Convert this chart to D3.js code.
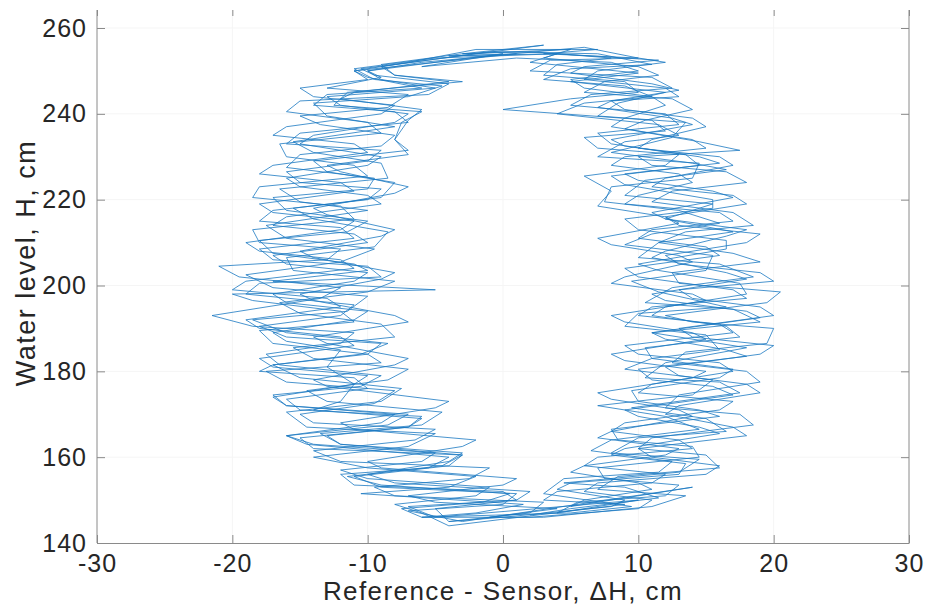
<!DOCTYPE html>
<html>
<head>
<meta charset="utf-8">
<script src="https://cdn.jsdelivr.net/npm/d3@7/dist/d3.min.js"></script>
<style>
  html, body { margin: 0; padding: 0; background: #fff; }
  svg { display: block; font-family: "Liberation Sans", Arial, Helvetica, sans-serif; }
</style>
</head>
<body>
<svg id="chart" width="928" height="611"></svg>
<script>
// Tick values for both axes
const xTicks = [-30, -20, -10, 0, 10, 20, 30];
const yTicks = [140, 160, 180, 200, 220, 240, 260];

// Hysteresis trajectory, one array per tide cycle: [ΔH (cm), H (cm)]
// rising limb on the right, short crossing at high water, falling limb on the left
const tide1 = [[2,146.5],[5,148],[11.5,150.5],[9,153],[4.5,154],[13,156.5],[14.5,159.5],[8,161],[10,164.5],[16.5,166],[15,169],[9.5,171.5],[17.5,175],[16,177.5],[10.5,178.5],[12,182],[18,185.5],[13,188],[11,189],[19,191.5],[17,194.5],[10.5,196],[12.5,199.5],[18.5,202],[16,205],[10,206.5],[11.5,210],[17,212.5],[12,215.5],[15.5,219],[9,221],[10.5,224.5],[16.5,227],[14,228.5],[8,231],[12.5,234.5],[13.5,238],[7,239.5],[8.5,242.5],[12,245],[5,247.5],[10,249.5],[2,252],[4,254],[-5,253],[-11,250.5],[-9.5,248],[-4.5,246.5],[-7,244],[-14,242.5],[-13,239.5],[-8,237],[-15.5,233.5],[-14,231],[-9,228.5],[-8.5,225],[-16.5,222.5],[-15,219.5],[-10,217.5],[-17.5,214],[-16,211],[-9.5,208.5],[-12,205.5],[-19,202.5],[-17,199.5],[-10,197.5],[-11.5,194],[-18.5,192],[-16,189],[-8.5,186.5],[-10.5,184],[-17,181.5],[-15,178.5],[-7.5,176],[-9,173],[-16,170.5],[-14.5,167],[-5,165.5],[-7,162.5],[-14,160],[-10,157.5],[-2,155.5],[-4,153],[-10.5,151.5],[1.5,149],[-2,147],[-6,146]];
const tide2 = [[5,147],[9.5,148.5],[3,151.5],[4.5,155],[11.5,156.5],[12.5,159],[6.5,161.5],[8,164],[14.5,166.5],[12,169.5],[7,172],[14,174.5],[15.5,178],[9,180.5],[11,183],[16,185],[15,188.5],[9,190.5],[10,193.5],[16.5,195],[11.5,198.5],[9.5,201],[15,203.5],[15.5,207],[9,209.5],[11,212],[16,214.5],[13,217.5],[7.5,219.5],[8,223],[14,225],[14.5,228.5],[7,230],[9,233.5],[13,235],[11.5,237.5],[4,240],[6,242.5],[11,244],[9,246.5],[3,248],[5,250.5],[11,251.5],[7,254],[-1,254.5],[-9,251],[-8,249],[-3,247.5],[-11.5,245],[-12.5,242],[-6,240.5],[-7.5,238],[-8,234],[-7,231.5],[-14,229],[-13,226.5],[-8,224],[-9,220.5],[-15.5,218],[-14,215.5],[-8.5,212.5],[-9.5,209],[-16,206.5],[-15.5,203.5],[-8,201],[-10,198.5],[-16.5,196],[-15,193.5],[-9,191],[-8,188],[-15.5,185.5],[-14,183],[-7,180.5],[-8.5,178],[-14.5,175.5],[-13,173],[-4.5,170.5],[-6,167.5],[-13.5,165.5],[-12,163],[-3,160.5],[-4.5,158],[-11.5,155.5],[-9,153.5],[0.5,151.5],[-1.5,149.5],[-7.5,148],[-6,146]];
const tide3 = [[3,146],[11,148.5],[13.5,151],[7,152.5],[8.5,155.5],[16,157.5],[15,160.5],[10,162],[11,164.5],[18.5,167.5],[17.5,170],[12,171.5],[13,174.5],[19,177.5],[18,180],[12.5,182],[13.5,184.5],[19.5,186.5],[20,190],[14,191.5],[12,193],[19.5,196],[20.5,198.5],[13,200.5],[12.5,203],[19,205.5],[17,207.5],[11.5,210],[13.5,212.5],[18.5,214],[17,217],[11,219.5],[12.5,222],[18,224],[16.5,226.5],[11,228],[10,230],[17.5,231.5],[14.5,233.5],[9,236.5],[10.5,238.5],[14,241],[12.5,243.5],[6,245],[7.5,247.5],[11.5,249],[10,251],[3,253],[5,255],[-3,254],[3,256],[-10.5,250.5],[-9.5,249],[-4,247],[-5.5,244.5],[-15,243],[-16,240.5],[-10,238],[-9,235.5],[-16.5,233],[-16,230],[-11,228],[-10,225.5],[-18,223],[-18.5,220.5],[-12,218.5],[-11,215.5],[-18.5,213],[-18,210],[-12,208.5],[-13,206],[-21,204.5],[-19.5,202],[-12,199.5],[-13.5,197],[-21.5,193],[-18.5,190.5],[-11,189],[-12,186.5],[-17.5,184],[-16.5,181.5],[-9,179],[-10.5,176.5],[-17,174.5],[-16,172],[-7,170],[-8.5,167.5],[-16,165],[-14.5,163],[-4,160],[-5.5,157.5],[-12,156],[-11,153.5],[0,152],[1,150],[-7,148.5],[-5,146]];
const tide4 = [[10,150],[4,147],[5.5,149.5],[12,151],[13,153.5],[7.5,155],[7,157.5],[14.5,160],[14,162.5],[8.5,164],[8,166.5],[16,169.5],[14.5,171],[10,173],[9.5,175.5],[16,178.5],[17,180.5],[11,183],[10.5,185.5],[17.5,188],[16.5,190.5],[11,193],[12,195],[18,198],[17.5,200.5],[11.5,203.5],[10,205],[16.5,208.5],[16.5,210.5],[10,213],[9,215.5],[15.5,218],[15.5,220],[9,223.5],[8,225.5],[14.5,228],[13.5,230.5],[8,233],[7,235.5],[13,237.5],[12,240],[5,242],[6.5,244.5],[12.5,246],[11,248.5],[2,250],[3.5,252.5],[10,253],[6,255.5],[-6,252],[-10,250],[-9,248.5],[-13,246],[-7,244.5],[-8.5,241.5],[-15,239.5],[-13.5,237.5],[-8,235],[-9,232.5],[-15,230.5],[-16,227.5],[-9.5,225],[-10,222.5],[-17,220.5],[-16,217.5],[-10,215],[-11.5,212.5],[-18,210.5],[-17,207.5],[-11,205],[-10,203.5],[-17,201],[-5,199],[-20,198],[-18.5,196.5],[-12,194],[-11,191.5],[-18,189.5],[-17,186.5],[-10,184],[-9,182],[-17.5,180],[-16,177.5],[-8,175.5],[-9.5,172.5],[-15,170],[-14,168],[-5,166.5],[-6.5,164],[-14,161.5],[-12,159],[-1,157.5],[-2.5,155],[-9.5,153],[-8,151],[3,149.5],[2,147],[-4,145]];
const tide5 = [[0,146],[8,148.5],[9,150],[4,152.5],[5,154],[13,156],[13.5,158.5],[8,160.5],[9,162],[16,165.5],[14.5,167],[10,169.5],[9,171],[17,174.5],[15.5,176.5],[11,178],[10,180.5],[18,183.5],[16.5,185],[12,187.5],[11,189],[19,192.5],[18,194],[12,196.5],[11,198],[18,201.5],[16.5,203],[11,206.5],[12,208],[16.5,211.5],[18,213],[12,215.5],[11,217],[17,220.5],[15.5,222],[10,224.5],[9,226],[16,228.5],[14.5,230],[9,232.5],[8,234],[14,237.5],[12.5,239],[7,241.5],[8,243],[13,245.5],[11,247],[5,249.5],[6,251],[11.5,252.5],[4,254],[-4,253.5],[1,254],[-11,250],[-10,248.5],[-6,246],[-13,244.5],[-14,242],[-8,240.5],[-7,238],[-15,235.5],[-16,233],[-9,231.5],[-10,229],[-16,226.5],[-15,224],[-9,222.5],[-10,220],[-17,217.5],[-18,215],[-12,213.5],[-11,211],[-18,208.5],[-17,206],[-10,204.5],[-9,202],[-18,200.5],[-19,198],[-11,195.5],[-12,193],[-18,190.5],[-16,188],[-9,186.5],[-10,184],[-17,181.5],[-18,180],[-11,178.5],[-10,176],[-16,173.5],[-15,171],[-6,169.5],[-7,167],[-15,164.5],[-14,162],[-3,160.5],[-4,158],[-11,155.5],[-9,153],[1,151.5],[0,149],[-7,147.5],[-3,145]];
const tide6 = [[14,153],[5,148.5],[6,150],[11,152.5],[10,154],[5,156.5],[6,158],[12,160.5],[13,162],[7,164.5],[8,166],[14,169.5],[13,171],[8,173.5],[7,175],[14,178.5],[15,180],[9,182.5],[8,184],[15,187.5],[14,189],[9,191.5],[8,193],[15,196.5],[14,198],[8,200.5],[9,202],[14,205.5],[13,207],[8,209.5],[7,211],[13,214.5],[12,216],[7,218.5],[8,222],[6,225.5],[12,228],[13,230.5],[7,232],[6,234.5],[12,236],[11,238.5],[0,241],[5,243.5],[10,245],[9,247.5],[3,249],[4,251.5],[8,253],[2,254.5],[-3,254],[-9,251.5],[-8,249],[-4,247.5],[-11,245],[-12,243.5],[-6,241],[-7,238.5],[-8,234],[-7,230.5],[-13,228],[-12,226.5],[-7,223],[-8,221.5],[-14,218],[-13,216.5],[-8,213],[-9,211.5],[-15,208],[-14,206.5],[-8,203],[-9,201.5],[-15,198],[-14,196.5],[-8,193],[-7,191.5],[-14,188],[-13,186.5],[-7,183],[-8,181.5],[-14,178],[-13,176.5],[-4,173],[-5,171.5],[-12,168],[-11,166.5],[-2,164],[-3,162.5],[-10,159],[-9,157.5],[1,155],[0,153.5],[-7,151],[-5,149.5],[4,148],[-1,146]];
const tide7 = [[2,146],[10,148],[11,150],[6,152],[7,154],[15,156],[16,158],[11,160],[10,162],[18,165],[17,167],[12,170],[13,172],[19,175],[18,177],[13,179],[12,181],[19,184],[20,186],[14,188],[13,190],[20,193],[19,195],[14,197],[13,199],[20,201],[19,203],[13,205],[12,207],[18,210],[19,212],[13,214],[12,216],[18,219],[17,221],[11,223],[12,225],[17,228],[16,230],[10,232],[11,234],[15,237],[14,239],[9,241],[8,243],[13,244],[12,246],[6,248],[7,250],[12,252],[10,253],[3,254],[7,255],[-2,255],[-7,252],[-11,250],[-10,248],[-15,246],[-14,244],[-8,242],[-9,240],[-16,237],[-17,235],[-11,233],[-10,231],[-17,228],[-18,226],[-12,224],[-11,222],[-18,219],[-17,217],[-11,215],[-12,213],[-19,210],[-18,208],[-12,206],[-11,204],[-19,201],[-20,199],[-13,197],[-12,195],[-19,192],[-18,190],[-12,188],[-11,186],[-18,183],[-17,181],[-10,179],[-11,177],[-17,174],[-16,172],[-8,170],[-9,168],[-16,165],[-14,163],[-5,161],[-6,159],[-12,157],[-10,155],[-1,153],[-2,151],[-8,149],[-6,147],[-4,144]];
const tide8 = [[9,149],[3,150],[4,152],[11,154],[12,156],[6,158],[7,160],[14,162],[13,164],[8,166],[9,168],[16,171],[17,173],[10,175],[11,177],[17,180],[16,182],[10,184],[9,186],[17,189],[16,191],[10,193],[11,195],[18,197],[17,199],[10,202],[9,204],[16,207],[15,209],[10,211],[11,213],[17,215],[16,217],[9,219],[10,221],[14,224],[13,226],[8,228],[9,230],[15,232],[14,234],[8,237],[9,239],[12,242],[11,244],[6,246],[5,248],[10,250],[8,252],[1,253],[-6,251],[0,254],[-10,250],[-9,248],[-5,246],[-13,244],[-12,242],[-7,240],[-8,238],[-14,235],[-15,233],[-9,230],[-10,228],[-16,225],[-15,223],[-10,221],[-9,219],[-16,216],[-17,214],[-11,212],[-10,210],[-17,207],[-16,205],[-10,203],[-11,201],[-17,198],[-16,196],[-10,194],[-11,192],[-17,189],[-16,187],[-12,185],[-13,181],[-11,177],[-12,173],[-14,171],[-6,169],[-7,167],[-13,165],[-12,163],[-3,161],[-4,159],[-10,156],[-8,154],[2,152],[1,150],[-5,148],[-4,145]];

const tides = [tide1, tide2, tide3, tide4, tide5, tide6, tide7, tide8];
const track = tides.flat();

// Layout
const svg = d3.select("#chart");
const plotLeft = 97, plotRight = 909, plotBottom = 543, plotTop = 10;

const x = d3.scaleLinear().domain([-30, 30]).range([plotLeft, plotRight]);
const y = d3.scaleLinear().domain([140, 260]).range([plotBottom, 28]);

const axisColor = "#8a8a8a";
const textColor = "#262626";
const fontStack = "'Liberation Sans', Arial, Helvetica, sans-serif";

// Faint grid
const grid = svg.append("g").attr("stroke", "#f5f5f5").attr("stroke-width", 1);
grid.selectAll("line.gx").data(xTicks.slice(1, -1)).join("line")
  .attr("x1", d => x(d)).attr("x2", d => x(d)).attr("y1", plotTop).attr("y2", plotBottom);
grid.selectAll("line.gy").data(yTicks.slice(1)).join("line")
  .attr("x1", plotLeft).attr("x2", plotRight).attr("y1", d => y(d)).attr("y2", d => y(d));

// Clip region for the trace
svg.append("clipPath").attr("id", "plotArea").append("rect")
  .attr("x", plotLeft).attr("y", plotTop).attr("width", plotRight - plotLeft).attr("height", plotBottom - plotTop);

const line = d3.line().x(d => x(d[0])).y(d => y(d[1]));

svg.append("path")
  .datum(track)
  .attr("clip-path", "url(#plotArea)")
  .attr("fill", "none")
  .attr("stroke", "#1a78c2")
  .attr("stroke-width", 0.8)
  .attr("stroke-linejoin", "miter")
  .attr("d", line);

// Axes
const plainFormat = d => String(d);

function styleAxis(g) {
  g.select(".domain").attr("stroke", axisColor);
  g.selectAll(".tick line").attr("stroke", axisColor);
  g.selectAll(".tick text").attr("fill", textColor)
    .style("font-size", "25px").style("letter-spacing", "1px")
    .style("font-family", fontStack);
}

svg.append("g").attr("transform", `translate(0,${plotBottom})`)
  .call(d3.axisBottom(x).tickValues(xTicks).tickFormat(plainFormat)
    .tickSize(-8).tickSizeOuter(0).tickPadding(11))
  .call(styleAxis);

svg.append("g").attr("transform", `translate(${plotLeft},0)`)
  .call(d3.axisLeft(y).tickValues(yTicks).tickFormat(plainFormat)
    .tickSize(-8).tickSizeOuter(0).tickPadding(10))
  .call(styleAxis)
  .call(g => g.select(".domain").attr("d", `M0,${plotTop}V${plotBottom}`));

svg.append("g").attr("transform", `translate(${plotRight},0)`)
  .call(d3.axisRight(y).tickValues(yTicks).tickSize(-8).tickSizeOuter(0).tickFormat(""))
  .call(styleAxis)
  .call(g => g.select(".domain").attr("d", `M0,${plotTop}V${plotBottom}`));

svg.append("g").attr("transform", `translate(0,${plotTop})`)
  .call(d3.axisTop(x).tickValues(xTicks).tickSize(-6).tickSizeOuter(0).tickFormat(""))
  .call(styleAxis)
  .call(g => g.select(".domain").remove());

// Axis titles
svg.append("text")
  .attr("x", (plotLeft + plotRight) / 2).attr("y", 600)
  .attr("text-anchor", "middle")
  .attr("fill", textColor)
  .style("font-size", "26px").style("letter-spacing", "1.4px")
  .text("Reference - Sensor, \u0394H, cm");

svg.append("text")
  .attr("transform", "translate(35,263) rotate(-90)")
  .attr("text-anchor", "middle")
  .attr("fill", textColor)
  .style("font-size", "27px").style("letter-spacing", "1.5px")
  .text("Water level, H, cm");
</script>
</body>
</html>
